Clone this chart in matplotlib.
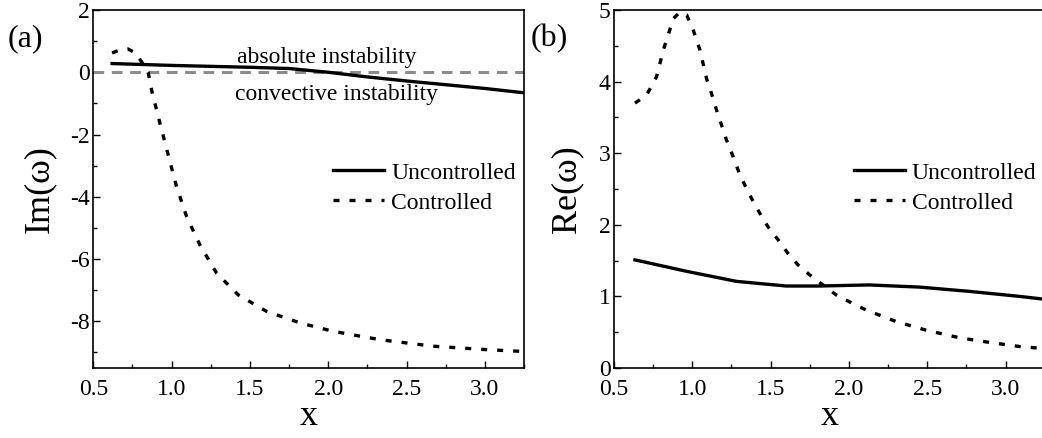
import numpy as np
import matplotlib.pyplot as plt
from matplotlib.ticker import MultipleLocator

plt.rcParams['font.family'] = ['Liberation Serif', 'DejaVu Serif']
plt.rcParams['axes.unicode_minus'] = False

# panel (a): Im(omega)
im_unc_x = [0.62, 1.0, 1.5, 1.75, 2.0, 2.25, 2.5, 2.75, 3.0, 3.25]
im_unc_y = [0.28, 0.22, 0.16, 0.12, 0.0, -0.15, -0.28, -0.40, -0.52, -0.66]
im_con_x = [0.62, 0.67, 0.72, 0.77, 0.81, 0.85, 0.873, 0.926, 0.979, 1.032, 1.096,
            1.181, 1.287, 1.425, 1.606, 1.819, 2.03, 2.33, 2.67, 3.01, 3.25]
im_con_y = [0.62, 0.72, 0.75, 0.62, 0.32, 0.0, -0.59, -1.65, -2.67, -3.68, -4.64,
            -5.55, -6.45, -7.15, -7.68, -8.05, -8.32, -8.59, -8.80, -8.91, -8.97]

# panel (b): Re(omega)
re_unc_x = [0.634, 0.964, 1.282, 1.6, 1.81, 2.13, 2.45, 2.77, 3.09, 3.25]
re_unc_y = [1.51, 1.35, 1.21, 1.145, 1.145, 1.16, 1.13, 1.07, 1.0, 0.96]
re_con_x = [0.634, 0.708, 0.772, 0.815, 0.879, 0.921, 0.964, 1.006, 1.049, 1.091,
            1.123, 1.155, 1.187, 1.219, 1.261, 1.293, 1.336, 1.378, 1.431, 1.484,
            1.548, 1.611, 1.675, 1.75, 1.834, 1.919, 2.025, 2.11, 2.30, 2.49,
            2.71, 2.92, 3.09, 3.25]
re_con_y = [3.70, 3.81, 4.07, 4.44, 4.88, 4.97, 4.93, 4.72, 4.44, 4.04,
            3.83, 3.60, 3.39, 3.18, 2.95, 2.76, 2.55, 2.37, 2.16, 1.97,
            1.79, 1.60, 1.44, 1.30, 1.16, 1.02, 0.90, 0.81, 0.65, 0.53,
            0.42, 0.35, 0.30, 0.27]

fig = plt.figure(figsize=(10.42, 4.38), dpi=100)
ax1 = fig.add_axes([93.3/1042, 70/438, 430.7/1042, 358/438])
ax2 = fig.add_axes([614/1042, 70/438, 430.7/1042, 358/438])

dots = (1.8, 3.0)
leg_kw = dict(loc='upper left', bbox_to_anchor=(0.557, 0.575), frameon=False, fontsize=17,
              handlelength=2.15, handletextpad=0.3, labelspacing=0.36, borderaxespad=0,
              borderpad=0)
for ax in (ax1, ax2):
    ax.tick_params(which='both', direction='in', labelsize=17, top=False, right=False)
    ax.tick_params(which='major', length=5, width=1)
    ax.tick_params(which='minor', length=3, width=1)
    ax.tick_params(axis='x', which='major', pad=8)
    ax.tick_params(axis='y', which='major', pad=2.5)
    ax.xaxis.set_major_locator(MultipleLocator(0.5))
    ax.xaxis.set_minor_locator(MultipleLocator(0.25))
    ax.set_xlim(0.5, 3.25)
    ax.set_xlabel('x', fontsize=26, labelpad=0)
    for s in ax.spines.values():
        s.set_linewidth(1.2)

ax1.axhline(0, color='#8c8c8c', lw=2.2, ls=(0, (3.5, 2.5)))
ax1.plot(im_unc_x, im_unc_y, color='black', lw=2.4, label='Uncontrolled')
ax1.plot(im_con_x, im_con_y, color='black', lw=2.4, ls=(0, dots), label='Controlled')
ax1.set_ylim(-9.5, 2)
ax1.yaxis.set_major_locator(MultipleLocator(2))
ax1.yaxis.set_minor_locator(MultipleLocator(1))
ax1.set_ylabel('Im(ω)', fontsize=26, labelpad=10)
ax1.text(1.99, 0.47, 'absolute instability', fontsize=17, ha='center', va='center')
ax1.text(2.05, -0.72, 'convective instability', fontsize=17, ha='center', va='center')
ax1.legend(**leg_kw)

ax2.plot(re_unc_x, re_unc_y, color='black', lw=2.4, label='Uncontrolled')
ax2.plot(re_con_x, re_con_y, color='black', lw=2.4, ls=(0, dots), label='Controlled')
ax2.set_ylim(0, 5)
ax2.yaxis.set_major_locator(MultipleLocator(1))
ax2.yaxis.set_minor_locator(MultipleLocator(0.5))
ax2.set_ylabel('Re(ω)', fontsize=26, labelpad=11)
ax2.legend(**leg_kw)

fig.text(8/1042, 1 - 39/438, '(a)', fontsize=23, va='center', ha='left')
fig.text(531/1042, 1 - 39/438, '(b)', fontsize=23, va='center', ha='left')

fig.savefig('out.png', dpi=100)
